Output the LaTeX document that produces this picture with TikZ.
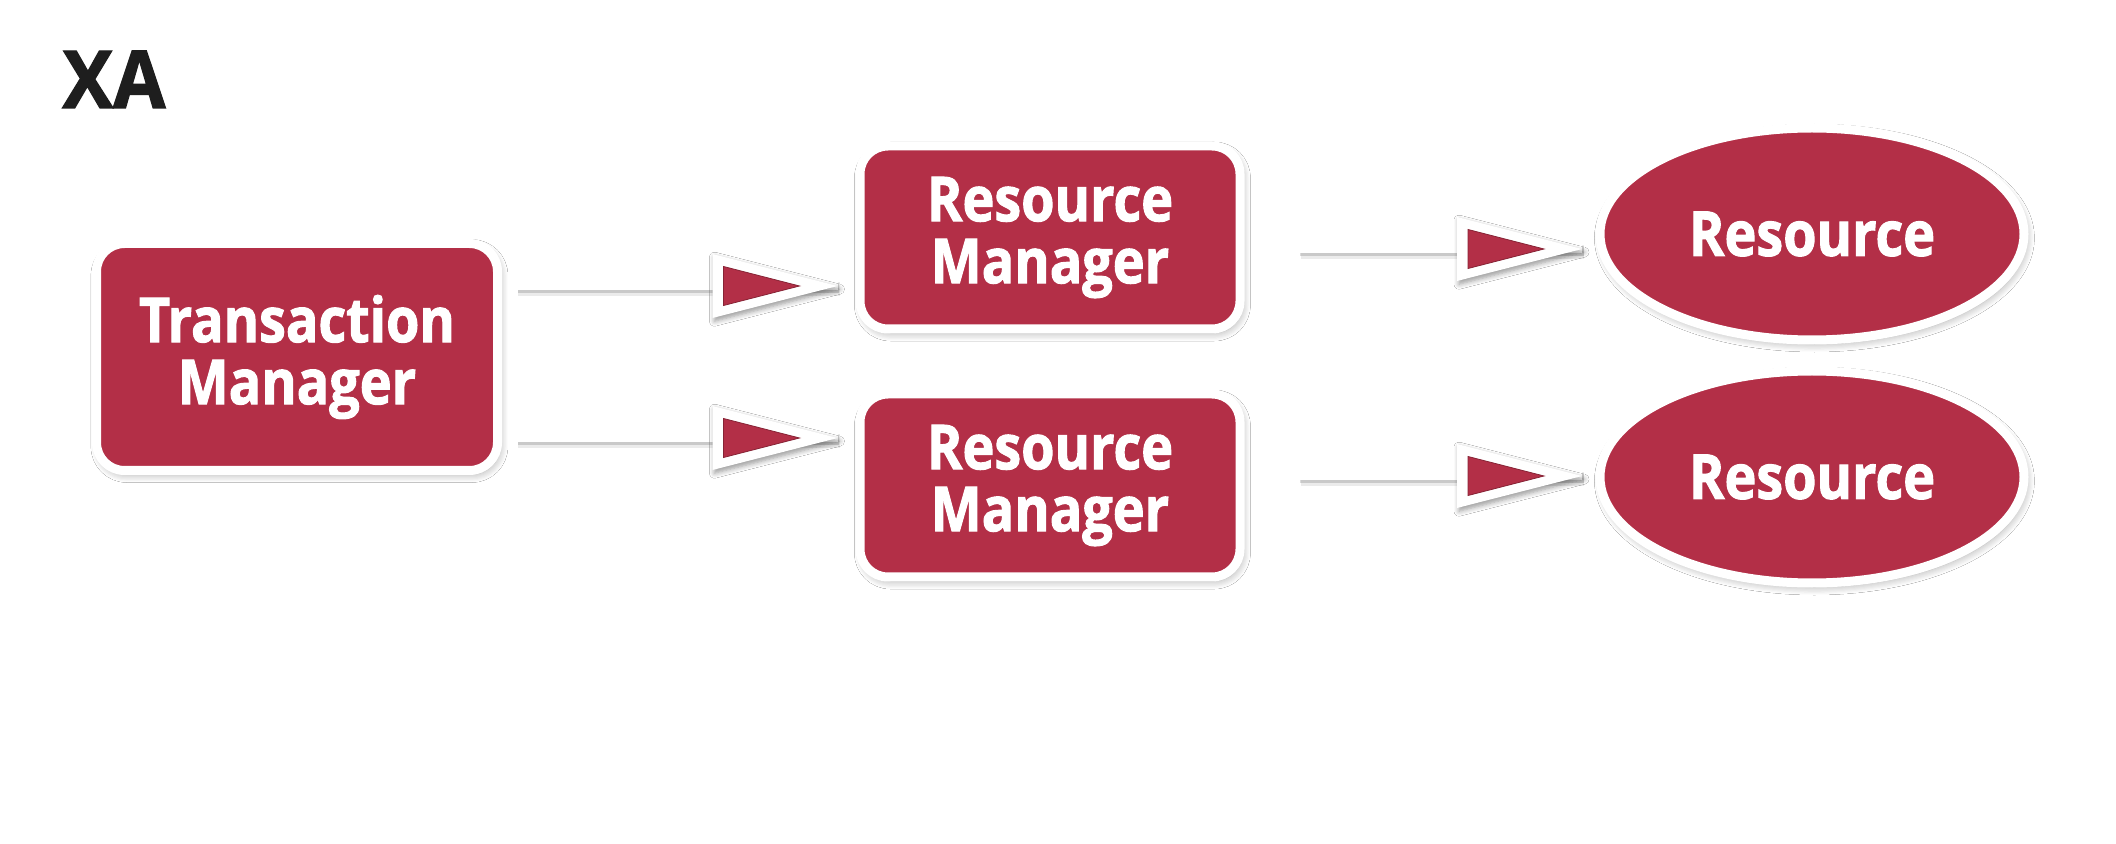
\documentclass[tikz,border=0pt]{standalone}
\usepackage{fontspec}
\setmainfont{Open Sans}
\newfontfamily\boxfont[FakeStretch=0.87,FakeBold=1.6]{Open Sans}
\newfontfamily\titlefont[FakeStretch=0.95,FakeBold=1.5]{Open Sans}
\usetikzlibrary{shapes.geometric,calc,decorations.markings,shadows.blur}
\definecolor{xared}{RGB}{179,47,71}
\definecolor{xatitle}{RGB}{30,30,30}
\newcommand\arrowhd{%
  \fill[white, blur shadow={shadow xshift=1pt, shadow yshift=-1.6pt, shadow opacity=40, shadow blur radius=2.5pt, shadow blur steps=6}]
    (0pt,0pt) -- (-62.5pt,16pt) -- (-62.5pt,-16pt) -- cycle;
  \filldraw[fill=xared, draw=xared!75!black, line width=0.4pt] (-19pt,0pt) -- (-57pt,9.75pt) -- (-57pt,-9.75pt) -- cycle;
}
\tikzset{
  shapebase/.style={draw=white, line width=4.5pt, fill=xared, text=white,
    font=\boxfont\bfseries\fontsize{31pt}{31pt}\selectfont, align=center, inner sep=0pt,
    blur shadow={shadow xshift=1.2pt, shadow yshift=-2pt, shadow opacity=35, shadow blur radius=4pt, shadow blur steps=8}},
  mgrbox/.style={shapebase, rectangle, rounded corners=14pt},
  resell/.style={shapebase, ellipse, minimum width=212pt, minimum height=106pt},
  conn/.style={draw=white, line width=4pt,
    preaction={draw=black, draw opacity=0.08, line width=7pt, transform canvas={shift={(1pt,-1.6pt)}}},
    preaction={draw=black, draw opacity=0.14, line width=4.5pt, transform canvas={shift={(0.8pt,-1.3pt)}}},
    postaction={decorate, decoration={markings, mark=at position 1 with {\arrowhd}}}},
  titletext/.style={anchor=base west, inner sep=0pt, text=xatitle, font=\titlefont\bfseries\fontsize{40pt}{40pt}\selectfont}
}
\begin{document}
\begin{tikzpicture}[x=0.5pt,y=-0.5pt]
\fill[white] (0,0) rectangle (2116,844);
\useasboundingbox (0,0) rectangle (2116,844);

\node[titletext] (xa) at (62,108) {XA};

\node[mgrbox, minimum width=200.5pt, minimum height=113.5pt] (tm) at (297,357) {Transaction\\Manager};
\node[mgrbox, minimum width=190pt, minimum height=91.5pt] (rm1) at (1050,237.5) {Resource\\Manager};
\node[mgrbox, minimum width=190pt, minimum height=91.5pt] (rm2) at (1050,485.5) {Resource\\Manager};
\node[resell] (e1) at (1812,234) {Resource};
\node[resell] (e2) at (1812,477) {Resource};

\coordinate (y1) at (0,286);
\coordinate (y2) at (0,438);
\coordinate (y3) at (0,249);
\coordinate (y4) at (0,476);

\draw[conn] ($(tm.east |- y1)+(7pt,0pt)$) -- ($(rm1.west |- y1)+(-9pt,0pt)$);
\draw[conn] ($(tm.east |- y2)+(7pt,0pt)$) -- ($(rm2.west |- y2)+(-9pt,0pt)$);
\draw[conn] ($(rm1.east |- y3)+(27pt,0pt)$) -- ($(e1.west |- y3)+(-6.75pt,0pt)$);
\draw[conn] ($(rm2.east |- y4)+(27pt,0pt)$) -- ($(e2.west |- y4)+(-6.75pt,0pt)$);
\end{tikzpicture}
\end{document}
